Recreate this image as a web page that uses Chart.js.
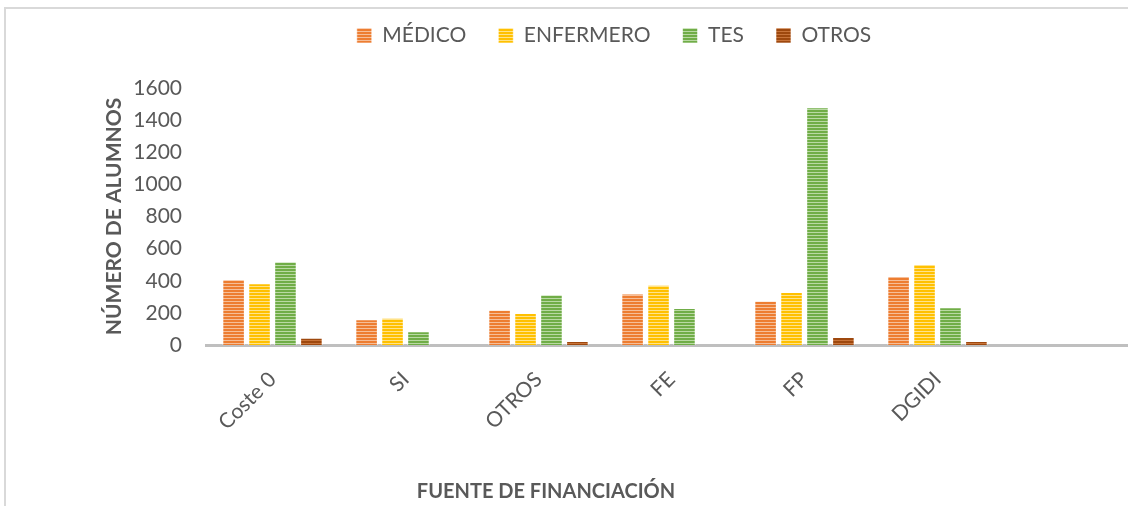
<!DOCTYPE html>
<html>
<head>
<meta charset="utf-8">
<script src="https://cdn.jsdelivr.net/npm/chart.js@4"></script>
<style>
  html, body { margin: 0; padding: 0; background: #fff; overflow: hidden; }
  body { width: 1128px; height: 506px; position: relative; }
  #frame { position: absolute; left: 4px; top: 7px; right: -10px; bottom: -10px;
           border-left: 2px solid #d9d9d9; border-top: 2px solid #d9d9d9; }
  #wrap { position: absolute; left: 0; top: -8px; width: 1140px; height: 514px; }
  #xtitle { position: absolute; left: 380px; width: 332px; top: 478px; text-align: center;
            font: bold 20px Lato, sans-serif; color: #595959; }
</style>
</head>
<body>
<div id="frame"></div>
<div id="wrap"><canvas id="chart" width="1140" height="514"></canvas></div>
<div id="xtitle">FUENTE DE FINANCIACIÓN</div>
<script>
// categorías (fuente de financiación) y alumnos por perfil
const categories = ['Coste 0', 'SI', 'OTROS', 'FE', 'FP', 'DGIDI', ''];
const medico    = [410, 160, 220, 320, 275, 430, null];
const enfermero = [385, 170, 200, 375, 330, 505, null];
const tes       = [520,  85, 315, 230, 1480, 235, null];
const otros     = [ 45,   0,  25,   0,  50,  25, null];
const yTicks = [0, 200, 400, 600, 800, 1000, 1200, 1400, 1600];

// relleno a rayas horizontales como en Excel
function stripes(dark, light) {
    const c = document.createElement('canvas');
    c.width = 4; c.height = 3;
    const g = c.getContext('2d');
    g.fillStyle = dark; g.fillRect(0, 0, 4, 3);
    g.fillStyle = light; g.fillRect(0, 0, 4, 1);
    return g.createPattern(c, 'repeat');
}

const series = [
    { label: 'MÉDICO', data: medico, dark: '#ED7D31', light: '#F6BE98' },
    { label: 'ENFERMERO', data: enfermero, dark: '#FFC000', light: '#FFE38A' },
    { label: 'TES', data: tes, dark: '#70AD47', light: '#B9D9A3' },
    { label: 'OTROS', data: otros, dark: '#9E480E', light: '#C8743A' }
];

const legendHeight = {
    id: 'legendHeight',
    beforeInit(chart) {
        const fit = chart.legend.fit;
        chart.legend.fit = function () {
            fit.call(this);
            this.height = 95;
        };
    }
};

Chart.defaults.font.family = 'Lato, sans-serif';
Chart.defaults.color = '#595959';

new Chart(document.getElementById('chart'), {
    type: 'bar',
    data: {
        labels: categories,
        datasets: series.map(s => ({
            label: s.label,
            data: s.data,
            backgroundColor: stripes(s.dark, s.light),
            borderColor: 'rgba(255,255,255,0.6)',
            borderWidth: 1,
            categoryPercentage: 0.78,
            barPercentage: 0.87
        }))
    },
    options: {
        responsive: false,
        animation: false,
        layout: { padding: { left: 91, right: 3, top: 1, bottom: 0 } },
        plugins: {
            tooltip: { enabled: false },
            legend: {
                position: 'top',
                labels: { boxWidth: 15, boxHeight: 15, padding: 32, font: { size: 21 }, color: '#595959' }
            }
        },
        scales: {
            x: {
                grid: { display: false, drawTicks: false },
                border: { display: true, color: '#BFBFBF', width: 3 },
                ticks: { minRotation: 45, maxRotation: 45, padding: 22, font: { size: 21 }, color: '#595959' },
                afterFit: s => { s.height = 161; }
            },
            y: {
                min: 0, max: 1600,
                grid: { display: false, drawTicks: false },
                border: { display: false },
                afterBuildTicks: s => { s.ticks = yTicks.map(v => ({ value: v })); },
                ticks: { padding: 24, font: { size: 21 }, color: '#595959', callback: v => String(v) },
                title: { display: true, text: 'NÚMERO DE ALUMNOS', font: { size: 21, weight: 'bold' },
                         color: '#595959', padding: { top: 11, bottom: 0 } },
                afterFit: s => { s.width = 115; }
            }
        }
    },
    plugins: [legendHeight]
});
</script>
</body>
</html>
